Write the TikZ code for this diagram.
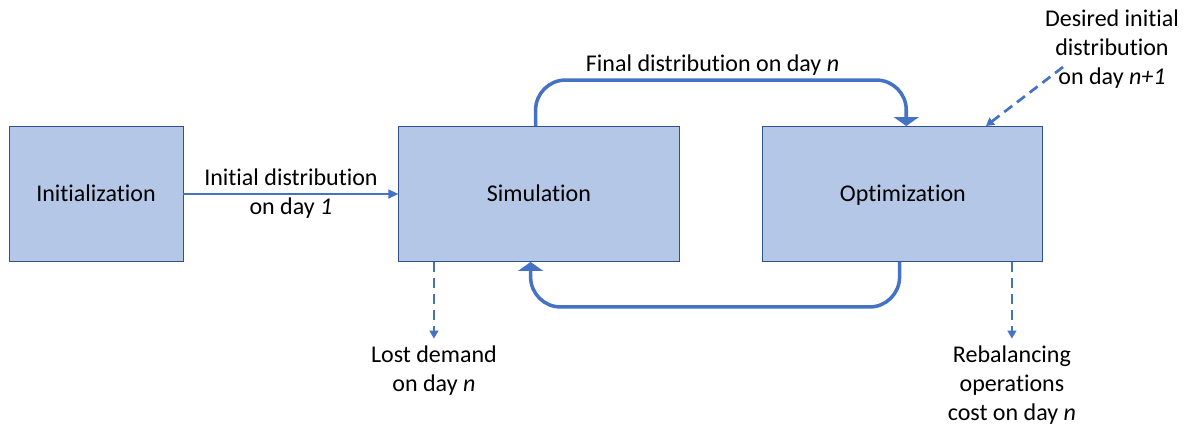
\documentclass[tikz,border=0pt]{standalone}
\usepackage{fontspec}
\setmainfont{Carlito}[Ligatures=NoCommon]
\usetikzlibrary{arrows.meta,positioning}
\definecolor{boxfill}{HTML}{B4C7E7}
\definecolor{boxline}{HTML}{2F528F}
\definecolor{flow}{HTML}{4472C4}
\tikzset{font=\fontsize{20.5}{24.8}\selectfont}
\tikzset{
  block/.style={draw=boxline,fill=boxfill,line width=0.8pt,minimum height=4.05cm,
    text height=0.42cm,text depth=0pt},
  feed/.style={draw=flow,line width=1.7pt,-{Triangle[length=3mm,width=2.6mm]}},
  loopback/.style={draw=flow,line width=3pt,rounded corners=0.9cm,-{Triangle[length=2.7mm,width=7.5mm]}},
  output/.style={draw=flow,line width=2.3pt,dash pattern=on 3mm off 1.8mm,-{Triangle[length=2.4mm,width=2.6mm]}},
  note/.style={align=center,inner sep=0pt,text=black}
}

\begin{document}
\begin{tikzpicture}[x=0.03cm,y=-0.03cm]
  \useasboundingbox (0,0) rectangle (1184,425);

  % the three stages
  \node[block,minimum width=5.22cm] (init) at (96,194) {Initialization};
  \node[block,minimum width=8.4cm,right=6.45cm of init] (sim) {Simulation};
  \node[block,minimum width=8.4cm,right=2.49cm of sim] (opt) {Optimization};

  \draw[feed] (init) -- node[note] {Initial distribution\\on day \textit{1}} (sim);

  % loop between simulation and optimization
  \draw[loopback] ([xshift=-0.1cm]sim.north) -- ++(0,1.38cm)
    -| node[note,pos=0.25,xshift=-0.25cm,above=0.08cm] {Final distribution on day \textit{n}}
    ([xshift=0.1cm]opt.north);
  \draw[loopback] ([xshift=-0.1cm]opt.south) -- ++(0,-1.35cm)
    -| ([xshift=-0.25cm]sim.south);

  % outputs
  \draw[output] ([xshift=-3.15cm]sim.south) -- ++(0,-2.3cm) coordinate (lostend);
  \node[note,below=0.2cm of lostend] (lost) {Lost demand\\on day \textit{n}};

  \draw[output] ([xshift=3.27cm]opt.south) -- ++(0,-2.3cm) coordinate (costend);
  \node[note,below=0.2cm of costend] (cost) {Rebalancing\\operations\\cost on day \textit{n}};

  % target input
  \node[note] (desired) at (1112,49) {Desired initial\\distribution\\on day \textit{n+1}};
  \coordinate (dstart) at (1063,67);
  \draw[output] (dstart) -- ([xshift=2.49cm]opt.north);
\end{tikzpicture}
\end{document}
